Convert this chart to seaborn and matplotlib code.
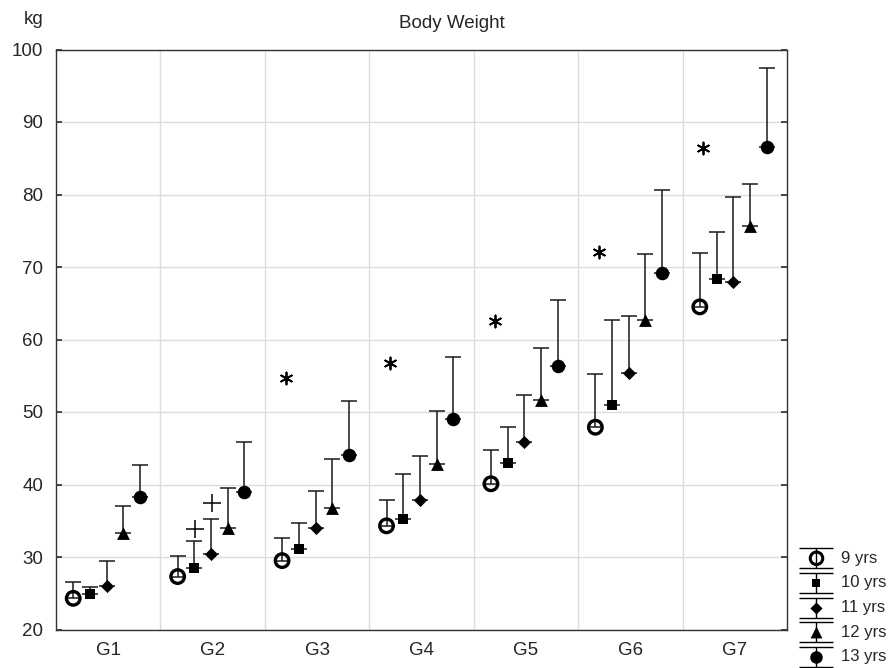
import numpy as np
import pandas as pd
import matplotlib
matplotlib.use("Agg")
import matplotlib.pyplot as plt
import seaborn as sns

# ---- data -------------------------------------------------------------
groups = ["G1", "G2", "G3", "G4", "G5", "G6", "G7"]
ages = ["9 yrs", "10 yrs", "11 yrs", "12 yrs", "13 yrs"]

mean_9 = [24.3, 27.3, 29.5, 34.3, 40.1, 47.9, 64.5]
sd_9 = [2.2, 2.9, 3.1, 3.5, 4.6, 7.4, 7.4]
mean_10 = [24.9, 28.5, 31.1, 35.2, 42.9, 51.0, 68.4]
sd_10 = [0.9, 3.7, 3.6, 6.3, 5.0, 11.7, 6.4]
mean_11 = [26.0, 30.4, 34.0, 37.8, 45.9, 55.4, 68.0]
sd_11 = [3.4, 4.9, 5.1, 6.1, 6.4, 7.8, 11.7]
mean_12 = [33.3, 34.0, 36.8, 42.8, 51.6, 62.7, 75.6]
sd_12 = [3.7, 5.5, 6.7, 7.4, 7.2, 9.1, 5.9]
mean_13 = [38.3, 39.0, 44.1, 49.0, 56.3, 69.2, 86.5]
sd_13 = [4.4, 6.9, 7.4, 8.6, 9.1, 11.4, 10.9]

# significance marks: asterisks per group, crosses over single ages
star_groups = ["G3", "G4", "G5", "G6", "G7"]
star_values = [54.7, 56.8, 62.5, 72.1, 86.4]
cross_groups = ["G2", "G2"]
cross_ages = ["10 yrs", "11 yrs"]
cross_values = [33.8, 37.5]

means = [mean_9, mean_10, mean_11, mean_12, mean_13]
sds = [sd_9, sd_10, sd_11, sd_12, sd_13]

rows = []
for age, m_list, s_list in zip(ages, means, sds):
    for g, m, s in zip(groups, m_list, s_list):
        rows.append({"group": g, "age": age, "mean": m, "sd": s})
df = pd.DataFrame(rows)

# horizontal placement of the age series inside each group
gidx = {g: i for i, g in enumerate(groups)}
offsets = dict(zip(ages, np.linspace(-0.335, 0.305, len(ages))))
df["pos"] = df["group"].map(gidx) + df["age"].map(offsets)

# ---- style ------------------------------------------------------------
sns.set_theme(style="white")
plt.rcParams["font.family"] = ["Liberation Sans", "DejaVu Sans"]

styles = {
    "9 yrs": dict(marker="o", s=95, filled=False),
    "10 yrs": dict(marker="s", s=48, filled=True),
    "11 yrs": dict(marker="D", s=45, filled=True),
    "12 yrs": dict(marker="^", s=85, filled=True),
    "13 yrs": dict(marker="o", s=95, filled=True),
}

fig = plt.figure(figsize=(8.95, 6.68), dpi=100)
ax = fig.add_axes([56 / 895, 1 - 629.5 / 668, (787 - 56) / 895, (629.5 - 49.5) / 668])

# error bars: from the mean up to mean + SD
ax.errorbar(df["pos"], df["mean"], yerr=[np.zeros(len(df)), df["sd"]],
            fmt="none", ecolor="#1a1a1a", elinewidth=1.1, capsize=6,
            capthick=1.1, zorder=2)

for age in ages:
    st = styles[age]
    sub = df[df["age"] == age]
    sns.scatterplot(data=sub, x="pos", y="mean", marker=st["marker"], s=st["s"],
                    color="black", edgecolor="black", linewidth=0,
                    ax=ax, legend=False, zorder=3)
    coll = ax.collections[-1]
    if not st["filled"]:
        coll.set_facecolor("none")
        coll.set_edgecolor("black")
        coll.set_linewidth(2.4)

# asterisks and crosses
stars = pd.DataFrame({"group": star_groups, "value": star_values})
stars["pos"] = stars["group"].map(gidx) - 0.3
sns.scatterplot(data=stars, x="pos", y="value", marker=(6, 2, 0), s=75,
                color="black", linewidth=1.3, ax=ax, legend=False, zorder=3)

crosses = pd.DataFrame({"group": cross_groups, "age": cross_ages, "value": cross_values})
crosses["pos"] = crosses["group"].map(gidx) + crosses["age"].map(offsets) + 0.01
sns.scatterplot(data=crosses, x="pos", y="value", marker="+", s=150,
                color="black", linewidth=1.1, ax=ax, legend=False, zorder=3)

# ---- axes -------------------------------------------------------------
ax.set_xlim(-0.5, len(groups) - 0.5)
ax.set_ylim(20, 100)
ax.set_xticks(np.arange(0.5, len(groups) - 0.5, 1))
ax.set_xticklabels([])
ax.set_xticks(np.arange(len(groups)), minor=True)
ax.set_xticklabels(groups, minor=True, fontsize=13.5)
ax.tick_params(axis="x", which="major", direction="in", length=4, color="#333333")
ax.tick_params(axis="x", which="minor", length=0, pad=9)
ax.set_yticks(np.arange(20, 101, 10))
ax.tick_params(axis="y", direction="in", left=True, right=True, length=4,
               pad=9, labelsize=13.5, color="#333333")
ax.set_xlabel("")
ax.set_ylabel("")
ax.grid(True, which="major", color="#dcdcdc", linewidth=1)
ax.set_axisbelow(True)
for sp in ax.spines.values():
    sp.set_visible(True)
    sp.set_color("#333333")
    sp.set_linewidth(1)

fig.text(452 / 895, 1 - 24 / 668, "Body Weight", ha="center", va="center", fontsize=13.5)
fig.text(34 / 895, 1 - 19 / 668, "kg", ha="center", va="center", fontsize=13.5)

# ---- key (drawn in pixel coordinates) --------------------------------
lax = fig.add_axes([0, 0, 1, 1], facecolor="none")
lax.set_xlim(0, 895)
lax.set_ylim(668, 0)
lax.axis("off")
for i, age in enumerate(ages):
    st = styles[age]
    yc = 558.3 + 24.6 * i
    lax.errorbar([816.5], [yc], yerr=10, fmt="none", ecolor="black",
                 elinewidth=1, capsize=12, capthick=1, zorder=2)
    fc = "black" if st["filled"] else "none"
    lax.scatter([816.5], [yc], marker=st["marker"], s=st["s"] * 0.85,
                facecolor=fc, edgecolor="black",
                linewidth=0 if st["filled"] else 2.2, zorder=3)
    lax.text(841, yc, age, ha="left", va="center", fontsize=12)

fig.savefig("out.png", dpi=100)
